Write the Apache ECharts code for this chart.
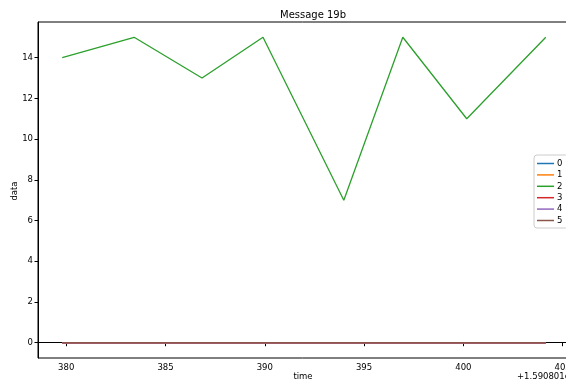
<!DOCTYPE html>
<html><head><meta charset="utf-8">
<script src="https://cdn.jsdelivr.net/npm/echarts@6/dist/echarts.min.js"></script>
<style>html,body{margin:0;padding:0;background:#fff}#c{width:566px;height:381px}</style>
</head><body><div id="c"></div>
<script>
// time offsets (seconds, relative to 1.590801e9)
const times = [379.8, 383.42, 386.84, 389.91, 393.98, 396.95, 400.17, 404.15];
const s0 = [0, 0, 0, 0, 0, 0, 0, 0];
const s1 = [0, 0, 0, 0, 0, 0, 0, 0];
const s2 = [14, 15, 13, 15, 7, 15, 11, 15];
const s3 = [0, 0, 0, 0, 0, 0, 0, 0];
const s4 = [0, 0, 0, 0, 0, 0, 0, 0];
const s5 = [0, 0, 0, 0, 0, 0, 0, 0];
const seriesNames = ['0', '1', '2', '3', '4', '5'];
const xTicks = [380, 385, 390, 395, 400, 405];
const yTicks = [0, 2, 4, 6, 8, 10, 12, 14];
const colors = ['#1f77b4', '#ff7f0e', '#2ca02c', '#d62728', '#9467bd', '#8c564b'];

const allSeries = [s0, s1, s2, s3, s4, s5];
const font = 'DejaVu Sans';
const chart = echarts.init(document.getElementById('c'), null, {renderer: 'canvas'});
chart.setOption({
  animation: false,
  color: colors,
  textStyle: {fontFamily: font},
  title: {text: 'Message 19b', left: 275, top: 5,
    textStyle: {fontFamily: font, fontSize: 10, fontWeight: 'normal', color: '#000'}},
  grid: {left: 38, top: 22, width: 532, height: 336, show: true, borderColor: '#000', borderWidth: 1,
    backgroundColor: 'transparent', containLabel: false, outerBoundsMode: 'none'},
  legend: {
    orient: 'vertical', left: 534, top: 155,
    data: seriesNames,
    icon: 'rect', itemWidth: 17, itemHeight: 1.5, itemGap: 2.4,
    backgroundColor: '#fff', borderColor: '#ccc', borderWidth: 1, borderRadius: 3,
    padding: [4, 6, 3, 3],
    textStyle: {fontFamily: font, fontSize: 8.5, color: '#000', lineHeight: 8.5, padding: [0,0,0,-2]}
  },
  xAxis: {
    type: 'value', min: 378.58, max: 405.37,
    axisLine: {show: true, lineStyle: {color: '#000', width: 1}},
    axisTick: {show: true, inside: false, length: 3.5, customValues: xTicks, lineStyle: {color: '#000'}},
    axisLabel: {customValues: xTicks, fontFamily: font, fontSize: 8.5, color: '#000', margin: 5, formatter: v => String(Math.round(v))},
    splitLine: {show: false}
  },
  yAxis: {
    type: 'value', min: -0.75, max: 15.75,
    axisLine: {show: true, lineStyle: {color: '#000', width: 1}},
    axisTick: {show: true, inside: false, length: 3.5, customValues: yTicks, lineStyle: {color: '#000'}},
    axisLabel: {customValues: yTicks, fontFamily: font, fontSize: 8.5, color: '#000', margin: 5, formatter: v => String(Math.round(v))},
    splitLine: {show: false}
  },
  graphic: [
    {type: 'text', x: 517, y: 372, style: {text: '+1.590801e9', fontFamily: font, fontSize: 8.5, fill: '#000'}},
    {type: 'text', x: 303, y: 377, style: {text: 'time', fontFamily: font, fontSize: 8.5, fill: '#000', align: 'center', verticalAlign: 'middle'}},
    {type: 'text', x: 15, y: 191, rotation: Math.PI / 2, style: {text: 'data', fontFamily: font, fontSize: 8.5, fill: '#000', align: 'center', verticalAlign: 'middle'}}
  ],
  series: allSeries.map((arr, i) => ({
    name: seriesNames[i], type: 'line', showSymbol: false, symbol: 'none',
    lineStyle: {width: 1.3, color: colors[i]},
    data: times.map((t, j) => [t, arr[j]])
  }))
});
</script></body></html>
